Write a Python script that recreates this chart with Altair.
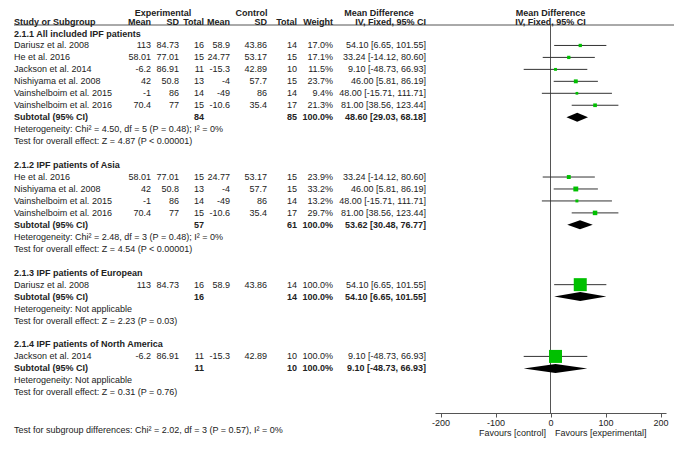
import altair as alt
import pandas as pd

# ---------------- data ----------------
study = ["Dariusz et al. 2008", "He et al. 2016", "Jackson et al. 2014",
         "Nishiyama et al. 2008", "Vainshelboim et al. 2015", "Vainshelboim et al. 2016"]
exp_mean = [113, 58.01, -6.2, 42, -1, 70.4]
exp_sd = [84.73, 77.01, 86.91, 50.8, 86, 77]
exp_n = [16, 15, 11, 13, 14, 15]
ctrl_mean = [58.9, 24.77, -15.3, -4, -49, -10.6]
ctrl_sd = [43.86, 53.17, 42.89, 57.7, 86, 35.4]
ctrl_n = [14, 15, 10, 15, 14, 17]
md = [54.10, 33.24, 9.10, 46.00, 48.00, 81.00]
md_lo = [6.65, -14.12, -48.73, 5.81, -15.71, 38.56]
md_hi = [101.55, 80.60, 66.93, 86.19, 111.71, 123.44]

groups = ["2.1.1 All included IPF patients", "2.1.2 IPF patients of Asia",
          "2.1.3 IPF patients of European", "2.1.4 IPF patients of North America"]
members = [[0, 1, 2, 3, 4, 5], [1, 3, 4, 5], [0], [2]]
weights = [[17.0, 17.1, 11.5, 23.7, 9.4, 21.3], [23.9, 33.2, 13.2, 29.7], [100.0], [100.0]]
sub_exp_n = [84, 57, 16, 11]
sub_ctrl_n = [85, 61, 14, 10]
sub_md = [48.60, 53.62, 54.10, 9.10]
sub_lo = [29.03, 30.48, 6.65, -48.73]
sub_hi = [68.18, 76.77, 101.55, 66.93]
heterogeneity = ["Heterogeneity: Chi\u00b2 = 4.50, df = 5 (P = 0.48); I\u00b2 = 0%",
                 "Heterogeneity: Chi\u00b2 = 2.48, df = 3 (P = 0.48); I\u00b2 = 0%",
                 "Heterogeneity: Not applicable",
                 "Heterogeneity: Not applicable"]
overall = ["Test for overall effect: Z = 4.87 (P < 0.00001)",
           "Test for overall effect: Z = 4.54 (P < 0.00001)",
           "Test for overall effect: Z = 2.23 (P = 0.03)",
           "Test for overall effect: Z = 0.31 (P = 0.76)"]
subgroup_test = "Test for subgroup differences: Chi\u00b2 = 2.02, df = 3 (P = 0.57), I\u00b2 = 0%"
axis_ticks = [-200, -100, 0, 100, 200]
favours = ["Favours [control]", "Favours [experimental]"]

# ---------------- build tables ----------------
FONT = "Liberation Sans"
TXT = "#222222"
FS = 9

cells = []
forest = []
diamond = []


def cell(row, col, text, bold=False):
    cells.append(dict(row=row, col=col, text=str(text), bold=bold))


TOPROW = -1.75
cell(TOPROW, "expH", "Experimental", True)
cell(TOPROW, "ctlH", "Control", True)
cell(TOPROW, "mdH", "Mean Difference", True)
cell(TOPROW, "plotH", "Mean Difference", True)
for c, t in [("study", "Study or Subgroup"), ("em", "Mean"), ("esd", "SD"), ("en_h", "Total"),
             ("cm", "Mean"), ("csd", "SD"), ("cn", "Total"), ("w", "Weight"),
             ("ci", "IV, Fixed, 95% CI"), ("plotH", "IV, Fixed, 95% CI")]:
    cell(-1, c, t, True)

H = 0.376
r = 0
for g, name in enumerate(groups):
    cell(r, "study", name, True)
    r += 1
    for k, s in enumerate(members[g]):
        w = weights[g][k]
        cell(r, "study", study[s])
        cell(r, "em", exp_mean[s])
        cell(r, "esd", exp_sd[s])
        cell(r, "en", exp_n[s])
        cell(r, "cm", ctrl_mean[s])
        cell(r, "csd", ctrl_sd[s])
        cell(r, "cn", ctrl_n[s])
        cell(r, "w", f"{w:.1f}%")
        cell(r, "ci", f"{md[s]:.2f} [{md_lo[s]:.2f}, {md_hi[s]:.2f}]")
        forest.append(dict(row=r, md=md[s], lo=md_lo[s], hi=md_hi[s], w=w))
        r += 1
    cell(r, "study", "Subtotal (95% CI)", True)
    cell(r, "en", sub_exp_n[g], True)
    cell(r, "cn", sub_ctrl_n[g], True)
    cell(r, "w", "100.0%", True)
    cell(r, "ci", f"{sub_md[g]:.2f} [{sub_lo[g]:.2f}, {sub_hi[g]:.2f}]", True)
    diamond += [dict(g=g, x=sub_lo[g], y=r, y2=r),
                dict(g=g, x=sub_md[g], y=r - H, y2=r + H),
                dict(g=g, x=sub_hi[g], y=r, y2=r)]
    r += 1
    cell(r, "study", heterogeneity[g])
    r += 1
    cell(r, "study", overall[g])
    r += 2

cells_df = pd.DataFrame(cells)
forest_df = pd.DataFrame(forest)
diamond_df = pd.DataFrame(diamond)

# ---------------- layout ----------------
W, HGT = 666, 405
RPX, ROFF = 11.96, 25.5
yscale = alt.Scale(domain=[-ROFF / RPX, (HGT - ROFF) / RPX], range=[0, HGT], nice=False, zero=False)
xscale = alt.Scale(domain=[-210, 210], range=[427, 658], nice=False, zero=False)
xaxis = alt.Axis(values=axis_ticks, title=None, grid=False, domainColor="#555555",
                 tickColor="#555555", tickSize=4, labelFontSize=FS, labelFont=FONT,
                 labelColor=TXT, labelPadding=1, labelExpr="'' + datum.value",
                 domainWidth=1, tickWidth=1)

# x positions are page pixels minus the 8px page margin
colspec = [("study", 6, "left"), ("em", 143, "right"), ("esd", 171, "right"),
           ("en", 196, "right"), ("en_h", 196, "right"), ("cm", 222, "right"),
           ("csd", 259, "right"), ("cn", 289, "right"), ("w", 325, "right"),
           ("ci", 418, "right"), ("expH", 155, "center"), ("ctlH", 243.5, "center"),
           ("mdH", 371, "center"), ("plotH", 542.5, "center")]

layers = []

# header line
hl = pd.DataFrame({"row": [-0.71]})
layers.append(alt.Chart(hl).mark_rule(color="#555555", strokeWidth=1).encode(
    x=alt.value(6), x2=alt.value(666), y=alt.Y("row:Q", scale=yscale, axis=None)))

for col, px, align in colspec:
    for bold in (False, True):
        sub = cells_df[(cells_df.col == col) & (cells_df.bold == bold)]
        if sub.empty:
            continue
        layers.append(alt.Chart(sub).mark_text(
            align=align, baseline="middle", font=FONT, fontSize=FS,
            fontWeight="bold" if bold else "normal", color=TXT).encode(
            x=alt.value(px), y=alt.Y("row:Q", scale=yscale, axis=None), text="text:N"))

# zero line
zl = pd.DataFrame({"x0": [0], "top": [-0.71], "bot": [(HGT - ROFF) / RPX]})
layers.append(alt.Chart(zl).mark_rule(color="#555555", strokeWidth=1).encode(
    x=alt.X("x0:Q", scale=xscale, axis=xaxis),
    y=alt.Y("top:Q", scale=yscale, axis=None), y2="bot:Q"))

# CI lines
layers.append(alt.Chart(forest_df).mark_rule(color="#333333", strokeWidth=1).encode(
    x=alt.X("lo:Q", scale=xscale, axis=xaxis), x2="hi:Q",
    y=alt.Y("row:Q", scale=yscale, axis=None)))

# squares
layers.append(alt.Chart(forest_df).mark_square(color="#00c000", opacity=1, filled=True).encode(
    x=alt.X("md:Q", scale=xscale, axis=xaxis),
    y=alt.Y("row:Q", scale=yscale, axis=None),
    size=alt.Size("w:Q", scale=alt.Scale(type="pow", exponent=2, domain=[0, 100], range=[6, 169]),
                  legend=None)))

# diamonds
layers.append(alt.Chart(diamond_df).mark_area(color="#000000", opacity=1, orient="vertical").encode(
    x=alt.X("x:Q", scale=xscale, axis=xaxis),
    y=alt.Y("y:Q", scale=yscale, axis=None), y2="y2:Q", detail="g:N"))

# favours labels and footer
fav = pd.DataFrame({"text": [favours[0]], "row": [(425 - ROFF) / RPX]})
layers.append(alt.Chart(fav).mark_text(align="right", baseline="middle", font=FONT, fontSize=FS,
                                       color=TXT).encode(
    x=alt.value(538), y=alt.Y("row:Q", scale=yscale, axis=None), text="text:N"))
fav2 = pd.DataFrame({"text": [favours[1]], "row": [(425 - ROFF) / RPX]})
layers.append(alt.Chart(fav2).mark_text(align="left", baseline="middle", font=FONT, fontSize=FS,
                                        color=TXT).encode(
    x=alt.value(547), y=alt.Y("row:Q", scale=yscale, axis=None), text="text:N"))
foot = pd.DataFrame({"text": [subgroup_test], "row": [(422 - ROFF) / RPX]})
layers.append(alt.Chart(foot).mark_text(align="left", baseline="middle", font=FONT, fontSize=FS,
                                        color=TXT).encode(
    x=alt.value(6), y=alt.Y("row:Q", scale=yscale, axis=None), text="text:N"))

chart = alt.layer(*layers).properties(
    width=W, height=HGT,
    autosize=alt.AutoSizeParams(type="none"),
    padding={"left": 0, "top": 0, "right": 0, "bottom": 31},
    background="white",
).configure_view(stroke=None)

chart.save("out.html", embed_options={"renderer": "svg", "actions": False})
